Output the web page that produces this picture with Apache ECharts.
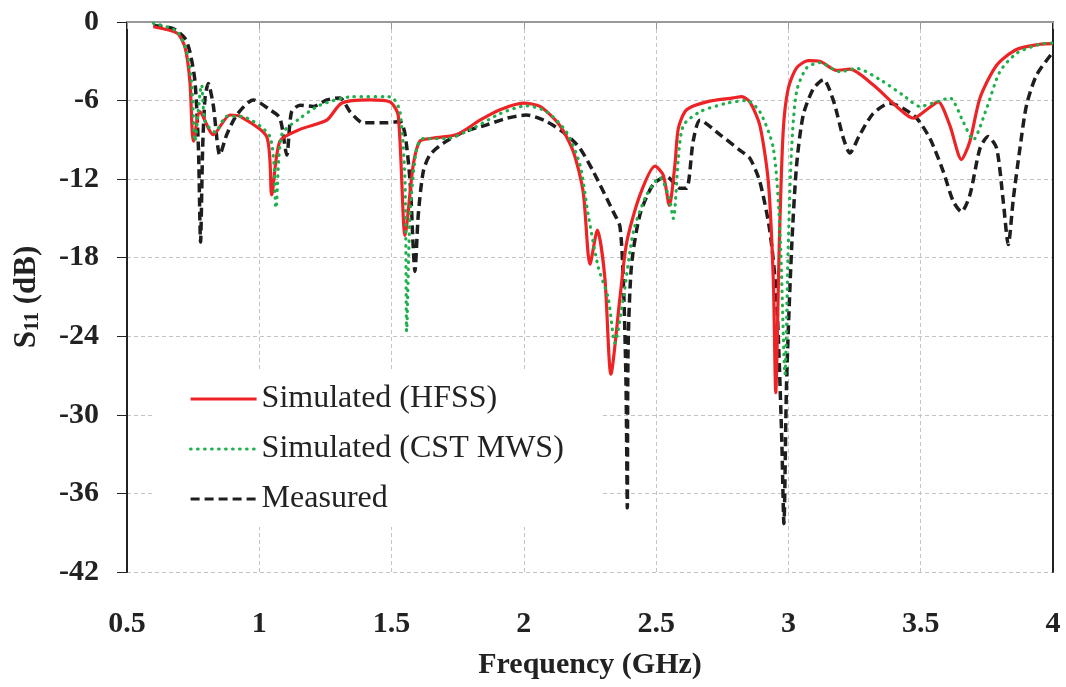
<!DOCTYPE html>
<html>
<head>
<meta charset="utf-8">
<script src="https://cdn.jsdelivr.net/npm/echarts@6/dist/echarts.min.js"></script>
<style>
  html, body { margin: 0; padding: 0; background: #fff; }
  #chart { width: 1066px; height: 687px; }
</style>
</head>
<body>
<div id="chart"></div>
<script>
// frequency (GHz) / S11 (dB)
var hfssFreq = [0.60, 0.69, 0.72, 0.738, 0.751, 0.776, 0.826, 0.889, 0.927, 1.028, 1.047, 1.078, 1.154, 1.255, 1.311, 1.418, 1.494, 1.525, 1.551, 1.582, 1.607, 1.645, 1.746, 1.834, 1.91, 1.998, 2.061, 2.136, 2.187, 2.224, 2.25, 2.278, 2.306, 2.329, 2.363, 2.389, 2.439, 2.496, 2.527, 2.55, 2.571, 2.584, 2.615, 2.691, 2.791, 2.823, 2.854, 2.892, 2.924, 2.943, 2.952, 2.965, 2.98, 2.999, 3.031, 3.075, 3.119, 3.182, 3.232, 3.32, 3.409, 3.472, 3.522, 3.566, 3.61, 3.654, 3.686, 3.724, 3.787, 3.862, 3.95, 4.0];
var hfssS11 = [-0.36, -0.86, -2.0, -4.6, -9.1, -6.85, -8.6, -7.1, -7.2, -8.75, -13.2, -9.1, -8.2, -7.5, -6.2, -5.95, -6.1, -7.1, -16.3, -10.9, -9.1, -8.9, -8.6, -7.5, -6.7, -6.2, -6.45, -7.9, -9.9, -12.95, -18.5, -15.9, -19.5, -26.9, -21.1, -16.8, -13.2, -11.0, -11.7, -14.0, -10.9, -8.1, -6.7, -6.1, -5.8, -5.7, -6.1, -7.9, -12.2, -19.8, -28.3, -17.3, -8.4, -5.1, -3.5, -2.95, -3.0, -3.7, -3.6, -4.8, -6.45, -7.35, -6.7, -6.1, -7.9, -10.5, -9.1, -5.8, -3.3, -2.1, -1.7, -1.65];

var cstFreq = [0.60, 0.688, 0.726, 0.744, 0.757, 0.776, 0.782, 0.795, 0.833, 0.877, 0.927, 1.04, 1.063, 1.085, 1.154, 1.229, 1.355, 1.481, 1.506, 1.532, 1.551, 1.557, 1.57, 1.595, 1.62, 1.708, 1.809, 1.91, 2.01, 2.086, 2.161, 2.212, 2.243, 2.281, 2.319, 2.344, 2.376, 2.414, 2.464, 2.514, 2.546, 2.565, 2.584, 2.603, 2.666, 2.767, 2.842, 2.892, 2.943, 2.968, 2.987, 2.999, 3.012, 3.031, 3.069, 3.119, 3.195, 3.258, 3.346, 3.434, 3.497, 3.56, 3.61, 3.66, 3.698, 3.749, 3.799, 3.862, 3.95, 4.0];
var cstS11 = [-0.1, -0.7, -2.3, -4.6, -9.1, -5.45, -4.8, -7.6, -8.4, -7.2, -7.2, -8.75, -14.2, -8.6, -7.35, -6.35, -5.7, -5.7, -5.8, -6.85, -12.2, -23.6, -14.7, -9.6, -8.9, -8.9, -8.1, -7.0, -6.4, -6.85, -8.4, -10.9, -14.7, -18.7, -21.1, -24.5, -21.1, -16.0, -13.2, -11.9, -13.2, -15.0, -10.4, -7.9, -6.85, -6.2, -6.0, -6.85, -9.65, -16.0, -26.9, -17.3, -9.65, -5.3, -3.5, -3.1, -3.8, -3.55, -4.4, -5.6, -6.45, -6.1, -5.8, -7.6, -9.0, -6.6, -3.8, -2.4, -1.7, -1.6];

var measFreq = [0.60, 0.675, 0.719, 0.738, 0.757, 0.77, 0.778, 0.786, 0.795, 0.807, 0.826, 0.851, 0.877, 0.915, 0.977, 1.04, 1.078, 1.104, 1.122, 1.154, 1.204, 1.255, 1.305, 1.343, 1.393, 1.481, 1.532, 1.551, 1.57, 1.582, 1.588, 1.601, 1.62, 1.645, 1.696, 1.771, 1.86, 1.935, 2.01, 2.086, 2.161, 2.212, 2.262, 2.338, 2.363, 2.376, 2.386, 2.391, 2.394, 2.407, 2.439, 2.489, 2.54, 2.59, 2.615, 2.64, 2.666, 2.741, 2.817, 2.854, 2.892, 2.93, 2.955, 2.974, 2.983, 2.993, 3.012, 3.031, 3.056, 3.094, 3.132, 3.17, 3.208, 3.232, 3.27, 3.32, 3.383, 3.434, 3.485, 3.535, 3.585, 3.623, 3.654, 3.686, 3.724, 3.755, 3.787, 3.812, 3.831, 3.85, 3.875, 3.9, 3.938, 4.0];
var measS11 = [-0.28, -0.5, -1.25, -2.3, -4.55, -9.65, -16.8, -9.6, -5.8, -4.7, -6.35, -10.15, -8.6, -7.1, -5.95, -6.7, -7.35, -10.15, -6.85, -6.35, -6.45, -5.95, -5.8, -6.85, -7.7, -7.7, -7.6, -8.6, -12.2, -17.3, -19.05, -14.7, -11.4, -10.15, -9.25, -8.4, -7.85, -7.35, -7.1, -7.6, -8.6, -9.65, -11.4, -14.5, -15.6, -19.8, -27.5, -37.1, -24.9, -18.55, -14.7, -12.4, -11.8, -12.7, -12.7, -9.1, -7.5, -8.6, -9.8, -10.4, -12.2, -16.0, -21.1, -31.3, -38.3, -27.5, -17.3, -10.9, -7.1, -5.1, -4.4, -6.0, -8.9, -10.0, -8.6, -7.0, -6.2, -6.6, -7.35, -8.9, -11.4, -13.7, -14.5, -13.2, -9.65, -8.75, -9.65, -13.7, -17.0, -13.5, -9.65, -6.35, -4.05, -2.3];

var seriesNames = ['Simulated (HFSS)', 'Simulated (CST MWS)', 'Measured'];

function pairs(xs, ys) {
  var out = [];
  for (var i = 0; i < xs.length; i++) out.push([xs[i], ys[i]]);
  return out;
}

var serif = '"Liberation Serif", "Times New Roman", serif';
var chart = echarts.init(document.getElementById('chart'));

chart.setOption({
  animation: false,
  grid: { left: 127, right: 13, top: 22, bottom: 115 },
  legend: {
    orient: 'vertical',
    left: 154,
    top: 371,
    padding: [12, 36, 12, 35],
    backgroundColor: '#fff',
    itemWidth: 66,
    itemHeight: 14,
    itemGap: 18,
    data: seriesNames,
    itemStyle: { opacity: 0 },
    lineStyle: { width: 3.2 },
    textStyle: { fontFamily: serif, fontSize: 32, color: '#222' }
  },
  xAxis: [{
    type: 'value',
    min: 0.5, max: 4, interval: 0.5,
    name: 'Frequency (GHz)',
    nameLocation: 'middle',
    nameGap: 78,
    nameTextStyle: { fontFamily: serif, fontSize: 30, fontWeight: 'bold', color: '#222' },
    axisLine: { lineStyle: { color: '#222', width: 2 } },
    axisTick: { show: false },
    axisLabel: { fontFamily: serif, fontSize: 30, fontWeight: 'bold', color: '#222', margin: 37 },
    splitLine: { lineStyle: { color: '#c4c4c4', type: [4, 3], width: 1 } }
  }, {
    type: 'value', position: 'top',
    min: 0.5, max: 4, interval: 0.5,
    axisLine: { show: true, lineStyle: { color: '#999', width: 2 } },
    axisTick: { show: true, inside: true, length: 7, lineStyle: { color: '#999' } },
    axisLabel: { show: false },
    splitLine: { show: false }
  }],
  yAxis: [{
    type: 'value',
    min: -42, max: 0, interval: 6,
    name: '{s|S}{sub|11}{s| (dB)}',
    nameLocation: 'middle',
    nameGap: 84,
    nameTextStyle: {
      rich: {
        s: { fontFamily: serif, fontSize: 31, fontWeight: 'bold', color: '#222' },
        sub: { fontFamily: serif, fontSize: 20, fontWeight: 'bold', color: '#222', verticalAlign: 'bottom', padding: [12, 0, 0, 0] }
      }
    },
    axisLine: { show: true, lineStyle: { color: '#222', width: 2 } },
    axisTick: { show: true, length: 10, lineStyle: { color: '#222' } },
    axisLabel: { fontFamily: serif, fontSize: 30, fontWeight: 'bold', color: '#222', margin: 28 },
    splitLine: { lineStyle: { color: '#c4c4c4', type: [4, 3], width: 1 } }
  }, {
    type: 'value', position: 'right',
    min: -42, max: 0, interval: 6,
    axisLine: { show: true, lineStyle: { color: '#222', width: 2 } },
    axisTick: { show: false },
    axisLabel: { show: false },
    splitLine: { show: false }
  }],
  series: [{
    name: seriesNames[0],
    type: 'line',
    showSymbol: false,
    symbol: 'none',
    smooth: 0.25,
    z: 3,
    data: pairs(hfssFreq, hfssS11),
    lineStyle: { color: '#ee2326', width: 3.2 },
    itemStyle: { color: '#ee2326' }
  }, {
    name: seriesNames[1],
    type: 'line',
    showSymbol: false,
    symbol: 'none',
    smooth: 0.25,
    z: 4,
    data: pairs(cstFreq, cstS11),
    lineStyle: { color: '#1db04b', width: 3.2, type: [0.5, 6.5], cap: 'round' },
    itemStyle: { color: '#1db04b' }
  }, {
    name: seriesNames[2],
    type: 'line',
    showSymbol: false,
    symbol: 'none',
    smooth: 0.25,
    z: 2,
    data: pairs(measFreq, measS11),
    lineStyle: { color: '#1e1e1e', width: 3.5, type: [9, 5] },
    itemStyle: { color: '#1e1e1e' }
  }]
});
</script>
</body>
</html>
